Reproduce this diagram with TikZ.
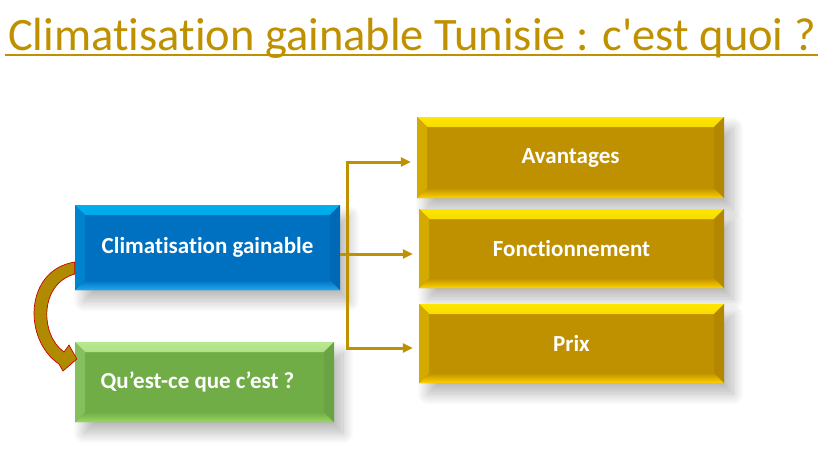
\documentclass[tikz,border=0pt]{standalone}
\usepackage{fontspec}
\setmainfont{Carlito}[Ligatures={NoCommon}]
\usetikzlibrary{arrows.meta,shadows.blur}

\definecolor{gold}{HTML}{BF9000}
\definecolor{goldtop}{HTML}{FFE600}
\definecolor{goldbot}{HTML}{FFD200}
\definecolor{bluebase}{HTML}{0070C0}
\definecolor{bluetop}{HTML}{00B0F0}
\definecolor{bluebot}{HTML}{20A8F0}
\definecolor{greenbase}{HTML}{70AD47}
\definecolor{greentop}{HTML}{B8E890}
\definecolor{greenbot}{HTML}{98D860}
\definecolor{arrowfill}{HTML}{B08A00}

\tikzset{bevel/.style n args={3}{fill=#1, path picture={
  \fill[top color=#2, bottom color=#1] (path picture bounding box.north west) -- (path picture bounding box.north east)
    -- ([xshift=-10pt,yshift=-10pt]path picture bounding box.north east) -- ([xshift=10pt,yshift=-10pt]path picture bounding box.north west) -- cycle;
  \fill[top color=#1, bottom color=#3] (path picture bounding box.south west) -- ([xshift=10pt,yshift=10pt]path picture bounding box.south west)
    -- ([xshift=-10pt,yshift=10pt]path picture bounding box.south east) -- (path picture bounding box.south east) -- cycle;
  \fill[#2!30!#1] (path picture bounding box.north west) -- ([xshift=10pt,yshift=-10pt]path picture bounding box.north west)
    -- ([xshift=10pt,yshift=10pt]path picture bounding box.south west) -- (path picture bounding box.south west) -- cycle;
  \fill[#1!94!black] (path picture bounding box.north east) -- ([xshift=-10pt,yshift=-10pt]path picture bounding box.north east)
    -- ([xshift=-10pt,yshift=10pt]path picture bounding box.south east) -- (path picture bounding box.south east) -- cycle;
}}}

\begin{document}
\begin{tikzpicture}[x=1pt,y=-1pt]
  \tikzstyle{B}=[rectangle,inner sep=0pt,text=white,font=\bfseries\fontsize{23}{27}\selectfont,
    blur shadow={shadow xshift=9pt,shadow yshift=-11pt,shadow blur steps=16,shadow blur radius=11pt,shadow opacity=28}]
  \tikzstyle{line}=[gold,line width=3pt]
  \tikzstyle{arrow}=[line,-{Triangle[length=10pt,width=9pt]},shorten >=6pt]
  \useasboundingbox (0,0) rectangle (833,455);

  \node[anchor=base west,text=gold,font=\fontsize{46.5}{52}\selectfont,inner sep=0pt] (title) at (8,50) {Climatisation gainable Tunisie : c\textquotesingle est quoi ?};
  \draw[gold,line width=2.8pt] ([xshift=-3pt,yshift=-5pt]title.base west) -- ([xshift=2pt,yshift=-5pt]title.base east);

  \node[B,bevel={bluebase}{bluetop}{bluebot},minimum width=265pt,minimum height=85pt] (cg) at (207.5,247.5) {Climatisation gainable};
  \node[B,bevel={greenbase}{greentop}{greenbot},minimum width=259pt,minimum height=80pt] (qc) at (204.5,382) {\hspace*{-14pt}Qu’est-ce que c’est ?};
  \node[B,bevel={gold}{goldtop}{goldbot},minimum width=307pt,minimum height=81pt] (av) at (570.5,157.5) {Avantages};
  \node[B,bevel={gold}{goldtop}{goldbot},minimum width=305pt,minimum height=79pt] (fn) at (571.5,248.5) {Fonctionnement};
  \node[B,bevel={gold}{goldtop}{goldbot},minimum width=305pt,minimum height=79pt] (px) at (571.5,343.5) {Prix};

  \coordinate (jn) at (347,254);
  \draw[line] ([yshift=-6.5pt]cg.east) -- (jn);
  \draw[arrow] (jn) |- ([yshift=-4.5pt]av.west);
  \draw[arrow] (jn) -- ([yshift=-5.5pt]fn.west);
  \draw[arrow] (jn) |- ([yshift=-4.5pt]px.west);

  \fill[arrowfill,draw=red!80!black,line width=0.7pt]
    ([yshift=-14.5pt]cg.west) .. controls (24,270) and (23,340) .. (59,364) -- (63,371) -- ([xshift=2pt,yshift=23pt]qc.west)
    -- (69,345) -- (64,352) .. controls (40,335) and (39,284) .. ([yshift=-26.5pt]cg.west) -- cycle;
\end{tikzpicture}
\end{document}
